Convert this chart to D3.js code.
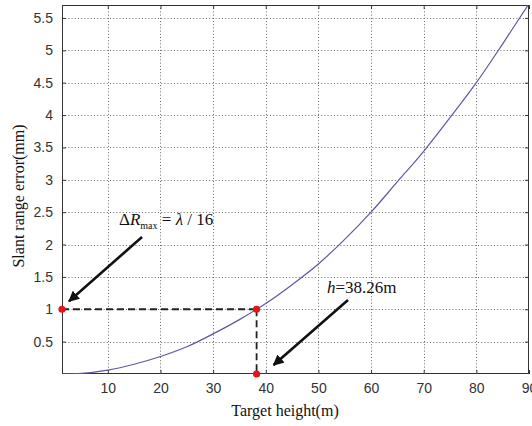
<!DOCTYPE html>
<html>
<head>
<meta charset="utf-8">
<script src="https://cdn.jsdelivr.net/npm/d3@7"></script>
<style>
  html, body { margin: 0; padding: 0; background: #fff; }
  svg { display: block; }
</style>
</head>
<body>
<svg id="chart" width="532" height="426"></svg>
<script>
// Target height (m) and the corresponding slant range error (mm)
const heights = [1.3, 5, 10, 15, 20, 25, 30, 35, 38.26, 40, 45, 50, 55, 60, 65, 70, 75, 80, 85, 90];
const errors  = [0.00, 0.01, 0.06, 0.15, 0.27, 0.42, 0.62, 0.84, 1.00, 1.09, 1.38, 1.70, 2.08, 2.50, 2.97, 3.44, 3.96, 4.50, 5.10, 5.72];

const xTicks = [10, 20, 30, 40, 50, 60, 70, 80, 90];
const yTicks = [0.5, 1, 1.5, 2, 2.5, 3, 3.5, 4, 4.5, 5, 5.5];

// Marked threshold point: ΔRmax = λ/16 reached at h = 38.26 m
const markH = [38.26];
const markErr = [1.0];

const xTitle = "Target height(m)";
const yTitle = "Slant range error(mm)";

const svg = d3.select("#chart");
const pLeft = 62, pRight = 529, pTop = 5, pBottom = 374;

const x = d3.scaleLinear().domain([1.3, 90]).range([pLeft, pRight]);
const y = d3.scaleLinear().domain([0, 5.7]).range([pBottom, pTop]);

const defs = svg.append("defs");
defs.append("clipPath").attr("id", "plotClip")
  .append("rect").attr("x", pLeft).attr("y", pTop)
  .attr("width", pRight - pLeft).attr("height", pBottom - pTop);
defs.append("marker").attr("id", "arrowHead")
  .attr("viewBox", "0 0 10 10").attr("refX", 9).attr("refY", 5)
  .attr("markerWidth", 4.2).attr("markerHeight", 4.2)
  .attr("markerUnits", "strokeWidth")
  .attr("orient", "auto")
  .append("path").attr("d", "M0,0 L10,5 L0,10 Z").attr("fill", "#111");

// dotted grid
const grid = svg.append("g").attr("stroke", "#666").attr("stroke-width", 1)
  .attr("stroke-dasharray", "1,2.2");
grid.selectAll("line.vx").data(xTicks.filter(d => d < 90)).join("line")
  .attr("x1", d => Math.round(x(d)) + 0.5).attr("x2", d => Math.round(x(d)) + 0.5)
  .attr("y1", pTop).attr("y2", pBottom);
grid.selectAll("line.hy").data(yTicks).join("line")
  .attr("y1", d => Math.round(y(d)) + 0.5).attr("y2", d => Math.round(y(d)) + 0.5)
  .attr("x1", pLeft).attr("x2", pRight);

// axes with inward ticks on all four sides
const tickFmt = d3.format("~g");
const axisStyle = g => {
  g.select(".domain").remove();
  g.selectAll(".tick line").attr("stroke", "#333");
  g.selectAll(".tick text").attr("fill", "#333")
    .style("font-family", "'Liberation Sans', Arial, sans-serif").style("font-size", "14px");
};
svg.append("g").attr("transform", `translate(0,${pBottom})`)
  .call(d3.axisBottom(x).tickValues(xTicks).tickFormat(tickFmt).tickSizeInner(-4).tickPadding(9))
  .call(axisStyle);
svg.append("g").attr("transform", `translate(0,${pTop})`)
  .call(d3.axisTop(x).tickValues(xTicks).tickFormat("").tickSizeInner(-4))
  .call(axisStyle);
svg.append("g").attr("transform", `translate(${pLeft},0)`)
  .call(d3.axisLeft(y).tickValues(yTicks).tickFormat(tickFmt).tickSizeInner(-4).tickPadding(9))
  .call(axisStyle);
svg.append("g").attr("transform", `translate(${pRight},0)`)
  .call(d3.axisRight(y).tickValues(yTicks).tickFormat("").tickSizeInner(-4))
  .call(axisStyle);

// box
svg.append("rect").attr("x", pLeft + 0.5).attr("y", pTop + 0.5)
  .attr("width", pRight - pLeft - 1).attr("height", pBottom - pTop - 1)
  .attr("fill", "none").attr("stroke", "#333").attr("stroke-width", 1);

// error curve
const pts = heights.map((h, i) => [h, errors[i]]);
svg.append("path").datum(pts)
  .attr("clip-path", "url(#plotClip)")
  .attr("fill", "none").attr("stroke", "#5d58a4").attr("stroke-width", 1.2)
  .attr("d", d3.line().x(d => x(d[0])).y(d => y(d[1])).curve(d3.curveMonotoneX));

// dashed guide lines to the marked point
const mx = x(markH[0]), my = y(markErr[0]);
const dash = svg.append("g").attr("stroke", "#222").attr("stroke-width", 1.8)
  .attr("stroke-dasharray", "7,4").attr("fill", "none");
dash.append("line").attr("x1", pLeft).attr("y1", my).attr("x2", mx).attr("y2", my);
dash.append("line").attr("x1", mx).attr("y1", my).attr("x2", mx).attr("y2", pBottom);

// red markers
const dots = [[x.domain()[0], markErr[0]], [markH[0], markErr[0]], [markH[0], 0]];
svg.selectAll("circle.mark").data(dots).join("circle")
  .attr("cx", d => x(d[0])).attr("cy", d => y(d[1])).attr("r", 3.6)
  .attr("fill", "#e3141c");

// arrows
const arrows = svg.append("g").attr("stroke", "#111").attr("stroke-width", 2.6);
arrows.append("line").attr("x1", 142).attr("y1", 237)
  .attr("x2", x(x.domain()[0]) + 7).attr("y2", my - 8)
  .attr("marker-end", "url(#arrowHead)");
arrows.append("line").attr("x1", 348).attr("y1", 300)
  .attr("x2", mx + 17).attr("y2", pBottom - 9)
  .attr("marker-end", "url(#arrowHead)");

// annotation text
const serif = "'Liberation Serif', 'Times New Roman', serif";
const t1 = svg.append("text").attr("x", 119).attr("y", 225)
  .style("font-family", serif).style("font-size", "17px").attr("fill", "#111");
t1.append("tspan").text("Δ");
t1.append("tspan").style("font-style", "italic").text("R");
t1.append("tspan").style("font-size", "10px").attr("dy", 4).text("max");
t1.append("tspan").attr("dy", -4).text(" = ");
t1.append("tspan").style("font-style", "italic").text("λ");
t1.append("tspan").text(" / 16");

const t2 = svg.append("text").attr("x", 327).attr("y", 293)
  .style("font-family", serif).style("font-size", "17px").attr("fill", "#111");
t2.append("tspan").style("font-style", "italic").text("h");
t2.append("tspan").text("=38.26m");

// axis titles
svg.append("text").attr("x", 285).attr("y", 416).attr("text-anchor", "middle")
  .style("font-family", serif).style("font-size", "16px").attr("fill", "#111")
  .text(xTitle);
svg.append("text").attr("transform", "translate(24,196) rotate(-90)")
  .attr("text-anchor", "middle")
  .style("font-family", serif).style("font-size", "16px").attr("fill", "#111")
  .text(yTitle);
</script>
</body>
</html>
